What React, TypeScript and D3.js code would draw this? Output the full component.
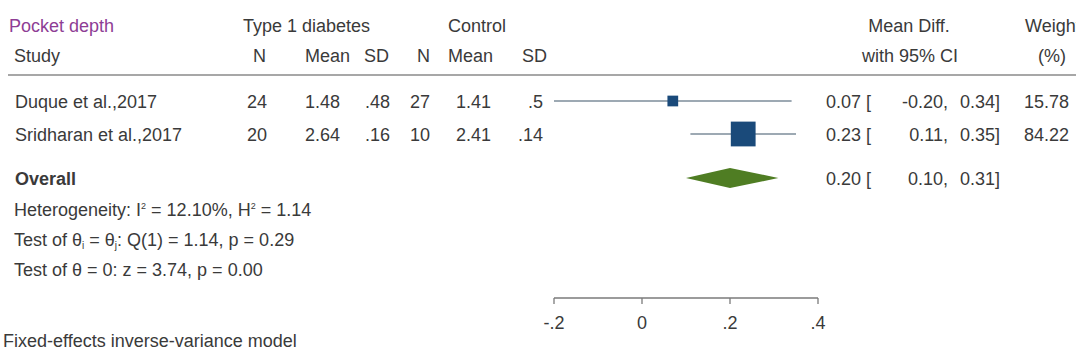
import React from 'react';
import * as d3 from 'd3';

const studies = ['Duque et al.,2017', 'Sridharan et al.,2017'];
const t1N = ['24', '20'];
const t1Mean = ['1.48', '2.64'];
const t1SD = ['.48', '.16'];
const ctN = ['27', '10'];
const ctMean = ['1.41', '2.41'];
const ctSD = ['.5', '.14'];
const est = [0.07, 0.23];
const lower = [-0.2, 0.11];
const upper = [0.34, 0.35];
const weights = [15.78, 84.22];
const overall = { est: 0.2, lower: 0.1, upper: 0.31 };
const ticks = [-0.2, 0, 0.2, 0.4];
const tickLabels = ['-.2', '0', '.2', '.4'];

const W = 1076;
const H = 362;
const FONT = '"Liberation Sans", Arial, sans-serif';
const TXT = '#3a3a3a';

const x = d3.scaleLinear().domain([-0.2, 0.4]).range([554, 818]);
const rowY = [101, 134];
const overallY = 178;
const axisY = 298;
const B = 6.5; // baseline offset from row centre

const fmt = (v: number) => v.toFixed(2);

export default function App() {
  const size = (w: number) => 2.7 * Math.sqrt(w);
  const diamond = [
    [x(overall.lower), overallY],
    [x(overall.est), overallY - 10],
    [x(overall.upper), overallY],
    [x(overall.est), overallY + 10],
  ].map(p => p.join(',')).join(' ');

  return (
    <svg width={W} height={H} viewBox={`0 0 ${W} ${H}`}
      style={{ position: 'absolute', left: 0, top: 0, background: '#fff' }}
      fontFamily={FONT} fontSize={18} fill={TXT}>
      {/* header */}
      <text x={9} y={25 + B} fill="#8e3d95">Pocket depth</text>
      <text x={243} y={25 + B}>Type 1 diabetes</text>
      <text x={448} y={25 + B}>Control</text>
      <text x={14} y={55 + B}>Study</text>
      <text x={266} y={55 + B} textAnchor="end">N</text>
      <text x={350} y={55 + B} textAnchor="end">Mean</text>
      <text x={389} y={55 + B} textAnchor="end">SD</text>
      <text x={430} y={55 + B} textAnchor="end">N</text>
      <text x={493} y={55 + B} textAnchor="end">Mean</text>
      <text x={547} y={55 + B} textAnchor="end">SD</text>
      <text x={909} y={25 + B} textAnchor="middle">Mean Diff.</text>
      <text x={910} y={55 + B} textAnchor="middle">with 95% CI</text>
      <text x={1025} y={25 + B}>Weight</text>
      <text x={1052} y={55 + B} textAnchor="middle">(%)</text>
      <line x1={8} x2={W} y1={75} y2={75} stroke="#8a8a8a" strokeWidth={1.5} />

      {studies.map((s, i) => {
        const y = rowY[i];
        const sz = size(weights[i]);
        return (
          <g key={s}>
            <text x={15} y={y + B}>{s}</text>
            <text x={267} y={y + B} textAnchor="end">{t1N[i]}</text>
            <text x={340} y={y + B} textAnchor="end">{t1Mean[i]}</text>
            <text x={390} y={y + B} textAnchor="end">{t1SD[i]}</text>
            <text x={430} y={y + B} textAnchor="end">{ctN[i]}</text>
            <text x={491} y={y + B} textAnchor="end">{ctMean[i]}</text>
            <text x={543} y={y + B} textAnchor="end">{ctSD[i]}</text>
            <line x1={x(lower[i])} x2={x(upper[i])} y1={y} y2={y} stroke="#7c8c9a" strokeWidth={1.5} />
            <rect x={x(est[i]) - sz / 2} y={y - sz / 2} width={sz} height={sz} fill="#1a4a7a" />
            <text x={861} y={y + B} textAnchor="end">{fmt(est[i])}</text>
            <text x={866} y={y + B}>[</text>
            <text x={948} y={y + B} textAnchor="end">{fmt(lower[i]) + ','}</text>
            <text x={995} y={y + B} textAnchor="end">{fmt(upper[i])}</text>
            <text x={995} y={y + B}>]</text>
            <text x={1069} y={y + B} textAnchor="end">{fmt(weights[i])}</text>
          </g>
        );
      })}

      <text x={15} y={overallY + B} fontWeight="bold">Overall</text>
      <polygon points={diamond} fill="#4f7d23" />
      <text x={861} y={overallY + B} textAnchor="end">{fmt(overall.est)}</text>
      <text x={866} y={overallY + B}>[</text>
      <text x={948} y={overallY + B} textAnchor="end">{fmt(overall.lower) + ','}</text>
      <text x={995} y={overallY + B} textAnchor="end">{fmt(overall.upper)}</text>
      <text x={995} y={overallY + B}>]</text>

      <text x={14} y={209 + B}>
        Heterogeneity: I<tspan dy={-7} fontSize={9}>2</tspan>
        <tspan dy={7}> = 12.10%, H</tspan><tspan dy={-7} fontSize={9}>2</tspan>
        <tspan dy={7}> = 1.14</tspan>
      </text>
      <text x={14} y={239 + B}>
        Test of θ<tspan dy={3} fontSize={10}>i</tspan>
        <tspan dy={-3}> = θ</tspan><tspan dy={3} fontSize={10}>j</tspan>
        <tspan dy={-3}>: Q(1) = 1.14, p = 0.29</tspan>
      </text>
      <text x={14} y={269 + B}>Test of θ = 0: z = 3.74, p = 0.00</text>

      {/* axis */}
      <line x1={x(-0.2)} x2={x(0.4)} y1={axisY} y2={axisY} stroke="#7a7a7a" strokeWidth={1.5} />
      {ticks.map((t, i) => (
        <g key={t}>
          <line x1={x(t)} x2={x(t)} y1={axisY} y2={axisY + 6} stroke="#7a7a7a" strokeWidth={1.3} />
          <text x={x(t)} y={322 + B} textAnchor="middle">{tickLabels[i]}</text>
        </g>
      ))}

      <text x={3} y={347}>Fixed-effects inverse-variance model</text>
    </svg>
  );
}
